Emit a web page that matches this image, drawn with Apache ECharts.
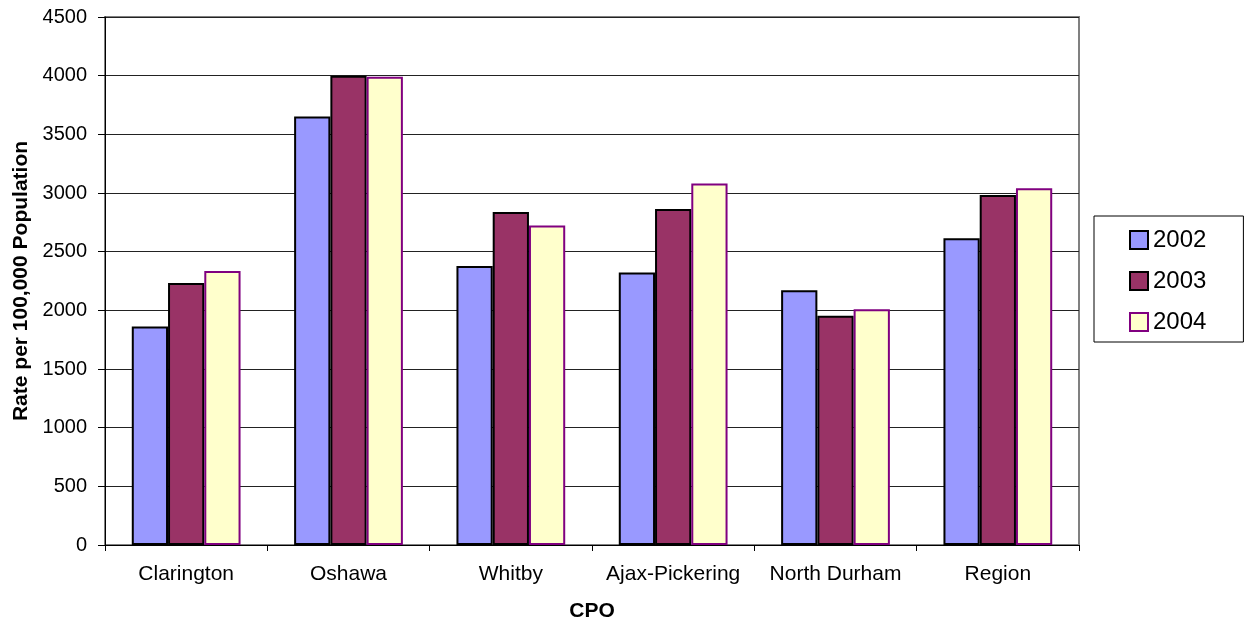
<!DOCTYPE html>
<html>
<head>
<meta charset="utf-8">
<script src="https://cdn.jsdelivr.net/npm/echarts@6/dist/echarts.min.js"></script>
<style>html,body{margin:0;padding:0;background:#fff}#c{width:1246px;height:627px}</style>
</head>
<body>
<div id="c"></div>
<script>
var categories = ['Clarington', 'Oshawa', 'Whitby', 'Ajax-Pickering', 'North Durham', 'Region'];
var years = ['2002', '2003', '2004'];
var v2002 = [1862, 3653, 2378, 2322, 2171, 2614];
var v2003 = [2233, 4000, 2838, 2864, 1953, 2983];
var v2004 = [2336, 3991, 2722, 3082, 2010, 3040];
var yTicks = [0, 500, 1000, 1500, 2000, 2500, 3000, 3500, 4000, 4500];

var fills = ['#9999FF', '#993366', '#FFFFCC'];
var borders = ['#000000', '#000000', '#800080'];
var values = [v2002, v2003, v2004];
var font = '"Liberation Sans", Arial, sans-serif';

var chart = echarts.init(document.getElementById('c'), null, {renderer: 'canvas'});
chart.setOption({
  animation: false,
  backgroundColor: '#ffffff',
  textStyle: {fontFamily: font},
  grid: {left: 105, right: 167, top: 17, bottom: 82, show: true, borderColor: '#808080', borderWidth: 2, backgroundColor: 'transparent'},
  legend: {
    orient: 'vertical', left: 1094, top: 216,
    data: years,
    itemWidth: 18, itemHeight: 18, itemGap: 17,
    padding: [12, 37, 8, 35],
    borderColor: '#000', borderWidth: 1,
    textStyle: {fontFamily: font, fontSize: 24, color: '#000', lineHeight: 24},
    icon: 'rect'
  },
  xAxis: {
    type: 'category', data: categories,
    name: 'CPO', nameLocation: 'middle', nameGap: 56,
    nameTextStyle: {fontFamily: font, fontSize: 21, fontWeight: 'bold', color: '#000'},
    axisLine: {lineStyle: {color: '#000', width: 1}},
    axisTick: {show: true, length: 6, alignWithLabel: false, lineStyle: {color: '#000'}},
    axisLabel: {fontFamily: font, fontSize: 21, color: '#000', margin: 19, interval: 0}
  },
  yAxis: {
    type: 'value', min: yTicks[0], max: yTicks[yTicks.length - 1], interval: 500,
    name: 'Rate per 100,000 Population', nameLocation: 'middle', nameGap: 71,
    nameTextStyle: {fontFamily: font, fontSize: 21, fontWeight: 'bold', color: '#000'},
    axisLine: {show: true, lineStyle: {color: '#000', width: 1}},
    axisTick: {show: true, length: 7, lineStyle: {color: '#000'}},
    axisLabel: {fontFamily: font, fontSize: 20, color: '#000', margin: 18, formatter: function (v) { return String(v); }},
    splitLine: {show: true, lineStyle: {color: '#222', width: 1}}
  },
  series: years.map(function (y, i) {
    return {
      name: y, type: 'bar', data: values[i],
      barGap: '0%', barCategoryGap: '33%',
      itemStyle: {color: fills[i], borderColor: borders[i], borderWidth: 2}
    };
  })
});
</script>
</body>
</html>
